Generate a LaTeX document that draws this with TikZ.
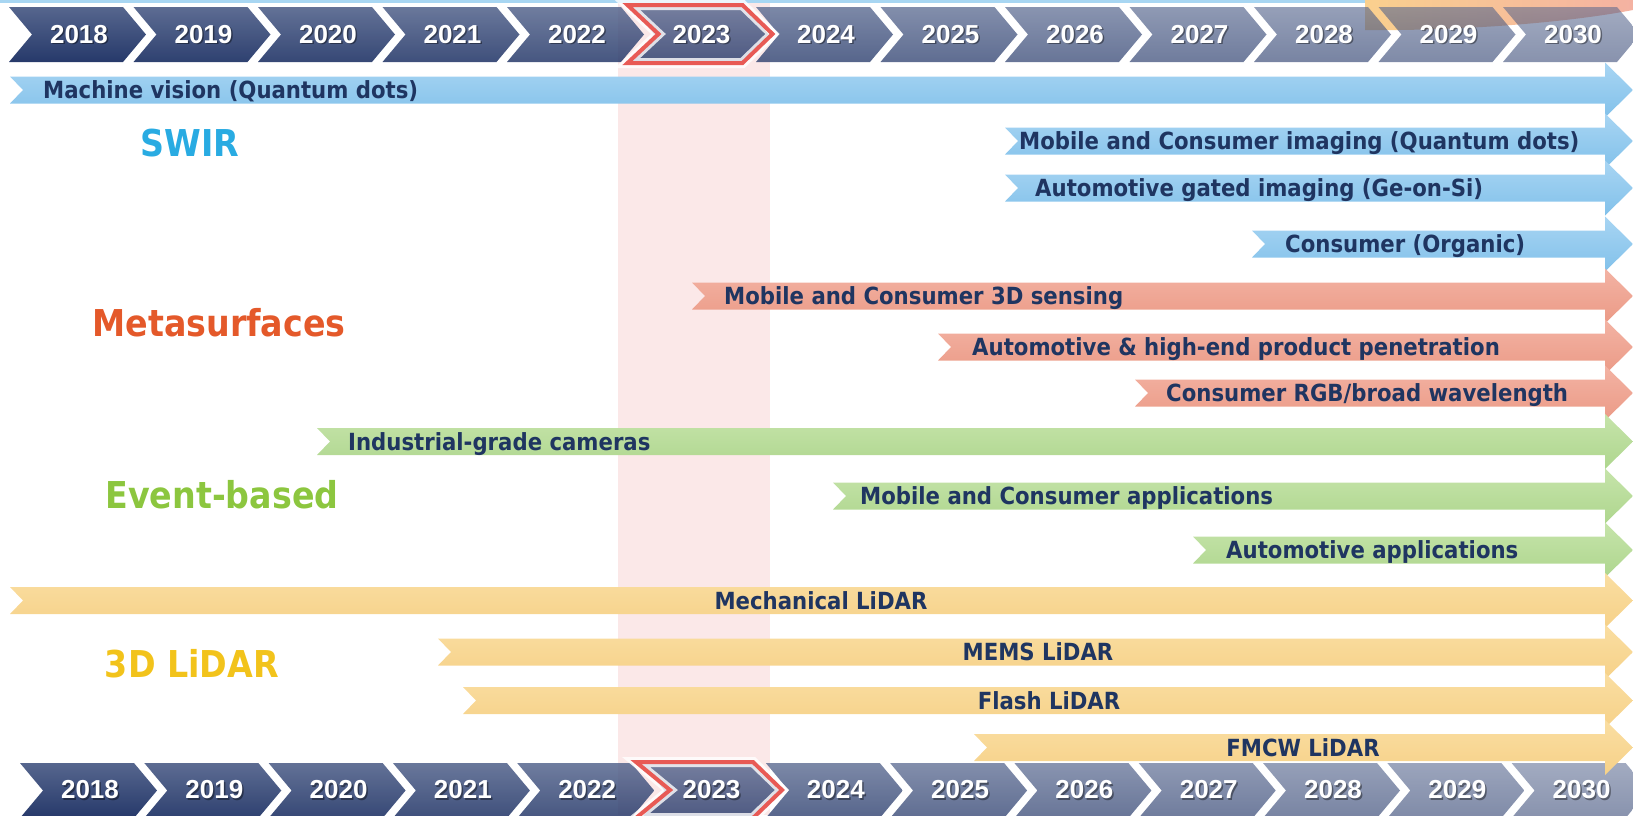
\documentclass[tikz,border=0pt]{standalone}
\usepackage{fontspec}
\setmainfont{Liberation Sans}
\newfontfamily\tahoma[FakeStretch=0.9]{DejaVu Sans}
\usepackage{xcolor}
\usepackage{tikz}
\usetikzlibrary{positioning}

\definecolor{labelC}{HTML}{1F3561}
\definecolor{chevT}{HTML}{56668E}
\definecolor{chevB}{HTML}{26396A}
\definecolor{colC}{HTML}{FBE8E8}
\definecolor{hiliteC}{HTML}{E85A55}
\definecolor{lineC}{HTML}{A8D6F2}
\definecolor{blobL}{HTML}{FAD08E}
\definecolor{blobR}{HTML}{F4B2A2}
\definecolor{blueT}{HTML}{A8D5F3}
\definecolor{blueB}{HTML}{82C1EA}
\definecolor{salmonT}{HTML}{F3B3A4}
\definecolor{salmonB}{HTML}{EB9A86}
\definecolor{greenT}{HTML}{C6E4AA}
\definecolor{greenB}{HTML}{AED68E}
\definecolor{yellowT}{HTML}{FADEA2}
\definecolor{yellowB}{HTML}{F6D188}
\definecolor{swirC}{HTML}{29ABE2}
\definecolor{metaC}{HTML}{E4592A}
\definecolor{eventC}{HTML}{8CC63F}
\definecolor{lidarC}{HTML}{F2C31B}

% banner arrow: name, start x, centre y, colour
\newcommand{\banner}[4]{%
	\coordinate (#1-s) at (#2,#3);
	\shade[top color=#4T, bottom color=#4B]
		(#2,#3-13.5) -- (1605,#3-13.5) -- (1605,#3-27.5) -- (1633,#3)
		-- (1605,#3+27.5) -- (1605,#3+13.5) -- (#2,#3+13.5) -- (#2+13,#3) -- cycle;
}

\begin{document}
\begin{tikzpicture}[x=1pt, y=-1pt,
	year/.style={font=\bfseries\fontsize{26}{28}\selectfont, text=white, inner sep=0pt},
	yshadow/.style={year, text=black, opacity=.4},
	bantext/.style={font=\tahoma\bfseries\fontsize{23.6}{26}\selectfont, text=labelC,
		inner sep=0pt, text height=21.8pt, text depth=4.6pt},
	title/.style={font=\tahoma\bfseries\fontsize{37}{40}\selectfont, inner sep=0pt},
	halo/.style={draw=white, opacity=.8, line width=10pt, line join=miter},
	hilite/.style={draw=hiliteC, line width=4pt, line join=miter}]

	\useasboundingbox (0,0) rectangle (1633,815);
	\clip (0,0) rectangle (1633,815);

	% current year column and top line
	\fill[colC] (618,0) rectangle (770,815);
	\fill[lineC] (0,0) rectangle (1633,2.5);
	\shade[left color=blobL, right color=blobR]
		(1365,0) -- (1365,30) .. controls (1450,31) and (1560,24) .. (1633,10) -- (1633,0) -- cycle;

	% year chevrons, top and bottom
	\foreach \yr [count=\i from 0] in {2018,...,2030}{
		\pgfmathsetmacro\op{1-0.0375*\i}
		\pgfmathsetmacro\xa{9+124.5*\i}
		\pgfmathsetmacro\xb{20+124.3*\i}
		\shade[top color=chevT, bottom color=chevB, opacity=\op]
			(\xa,7) -- ++(114,0) -- ++(23,27.5) -- ++(-23,27.5) -- ++(-114,0) -- ++(23,-27.5) -- cycle;
		\shade[top color=chevT, bottom color=chevB, opacity=\op]
			(\xb,763) -- ++(114,0) -- ++(23,27.5) -- ++(-23,27.5) -- ++(-114,0) -- ++(23,-27.5) -- cycle;
		\node[yshadow] (st\yr) at (\xa+71.5,36) {\yr};
		\node[year] (t\yr) at (\xa+70,34.5) {\yr};
		\node[yshadow] (sb\yr) at (\xb+71.5,791.5) {\yr};
		\node[year] (b\yr) at (\xb+70,790) {\yr};
	}

	\draw[halo] (627.5,5) -- (742.5,5) -- (772.5,34) -- (742.5,63) -- (627.5,63) -- (658.5,34) -- cycle;
	\draw[hilite] (627.5,5) -- (742.5,5) -- (772.5,34) -- (742.5,63) -- (627.5,63) -- (658.5,34) -- cycle;
	\draw[halo] (636,762) -- (753,762) -- (782,790) -- (753,818) -- (636,818) -- (670,790) -- cycle;
	\draw[hilite] (636,762) -- (753,762) -- (782,790) -- (753,818) -- (636,818) -- (670,790) -- cycle;

	% SWIR
	\banner{mv}{10}{90}{blue}
	\banner{mci}{1005}{141}{blue}
	\banner{agi}{1005}{188}{blue}
	\banner{cor}{1252}{244}{blue}
	% Metasurfaces
	\banner{m3d}{692}{296}{salmon}
	\banner{ahe}{938}{347}{salmon}
	\banner{rgb}{1135}{393}{salmon}
	% Event-based
	\banner{igc}{317}{441.5}{green}
	\banner{mca}{833}{496}{green}
	\banner{aua}{1193}{550}{green}
	% LiDAR
	\banner{mech}{10}{600.5}{yellow}
	\banner{mems}{438}{652}{yellow}
	\banner{flash}{463}{700.5}{yellow}
	\banner{fmcw}{974}{747.5}{yellow}

	\node[bantext, right=33pt of mv-s] (mv) {Machine vision (Quantum dots)};
	\node[bantext, right=14pt of mci-s] (mci) {Mobile and Consumer imaging (Quantum dots)};
	\node[bantext, right=30pt of agi-s] (agi) {Automotive gated imaging (Ge-on-Si)};
	\node[bantext, right=33pt of cor-s] (cor) {Consumer (Organic)};
	\node[bantext, right=32pt of m3d-s] (m3d) {Mobile and Consumer 3D sensing};
	\node[bantext, right=34pt of ahe-s] (ahe) {Automotive \& high-end product penetration};
	\node[bantext, right=31pt of rgb-s] (rgb) {Consumer RGB/broad wavelength};
	\node[bantext, right=31pt of igc-s] (igc) {Industrial-grade cameras};
	\node[bantext, right=27pt of mca-s] (mca) {Mobile and Consumer applications};
	\node[bantext, right=33pt of aua-s] (aua) {Automotive applications};
	\node[bantext] (mech) at (821,600.5) {Mechanical LiDAR};
	\node[bantext] (mems) at (1038,652) {MEMS LiDAR};
	\node[bantext] (flash) at (1049,700.5) {Flash LiDAR};
	\node[bantext] (fmcw) at (1303,747.5) {FMCW LiDAR};

	\node[title, text=swirC] (swir) at (190,143) {SWIR};
	\node[title, text=metaC] (meta) at (219,323) {Metasurfaces};
	\node[title, text=eventC] (event) at (222,495) {Event-based};
	\node[title, text=lidarC] (lidar) at (192,664) {3D LiDAR};
\end{tikzpicture}
\end{document}
